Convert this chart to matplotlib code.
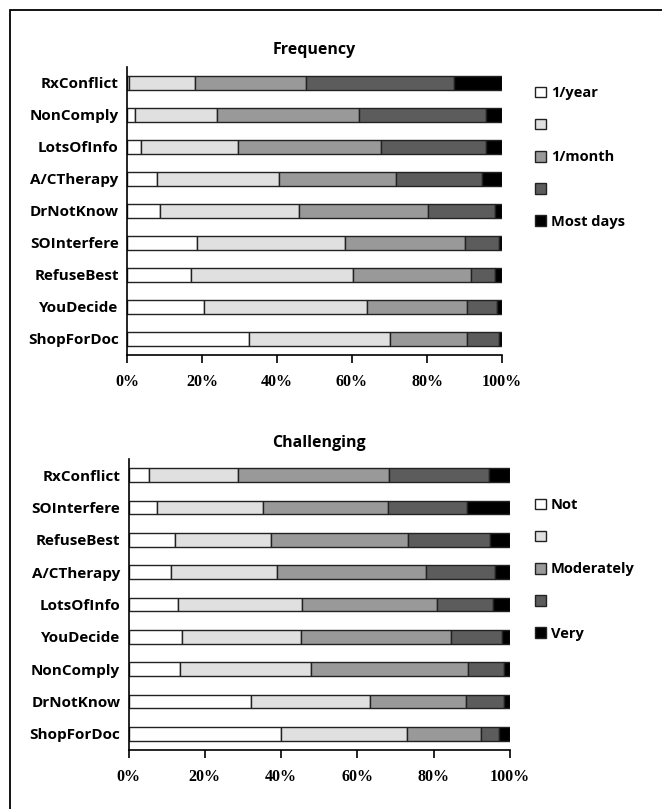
import matplotlib
matplotlib.use("Agg")
import matplotlib.pyplot as plt
from matplotlib.patches import Rectangle

# Données (% par niveau)
freq_cats = ["RxConflict", "NonComply", "LotsOfInfo", "A/CTherapy", "DrNotKnow",
             "SOInterfere", "RefuseBest", "YouDecide", "ShopForDoc"]
freq_labels = ["1/year", "", "1/month", "", "Most days"]
freq_1 = [0.5, 2.1, 3.7, 8.1, 8.7, 18.7, 17.1, 20.5, 32.6]
freq_2 = [17.7, 21.9, 25.8, 32.5, 37.1, 39.4, 43.2, 43.4, 37.6]
freq_3 = [29.4, 37.9, 38.2, 31.1, 34.4, 32.0, 31.5, 26.7, 20.5]
freq_4 = [39.5, 33.7, 27.9, 23.0, 17.9, 9.2, 6.2, 8.0, 8.5]
freq_5 = [12.9, 4.4, 4.4, 5.3, 1.9, 0.7, 2.0, 1.4, 0.8]

chal_cats = ["RxConflict", "SOInterfere", "RefuseBest", "A/CTherapy", "LotsOfInfo",
             "YouDecide", "NonComply", "DrNotKnow", "ShopForDoc"]
chal_labels = ["Not", "", "Moderately", "", "Very"]
chal_1 = [5.5, 7.6, 12.1, 11.2, 13.0, 14.1, 13.5, 32.1, 40.0]
chal_2 = [23.1, 27.7, 25.3, 27.8, 32.5, 31.2, 34.4, 31.3, 33.0]
chal_3 = [39.6, 32.7, 35.9, 39.0, 35.4, 39.2, 41.1, 25.1, 19.4]
chal_4 = [26.3, 20.6, 21.5, 18.0, 14.6, 13.5, 9.3, 9.9, 4.8]
chal_5 = [5.5, 11.4, 5.2, 4.0, 4.5, 2.0, 1.7, 1.6, 2.8]

colors = ["#ffffff", "#e0e0e0", "#999999", "#5c5c5c", "#000000"]
tick_labels = ["0%", "20%", "40%", "60%", "80%", "100%"]

W, H = 662, 809
fig = plt.figure(figsize=(W / 100, H / 100), dpi=100)
fig.patch.set_facecolor("white")

# Cadre autour de la figure
fig.patches.append(Rectangle((10 / W, -0.05), 1.2, 1 - 10 / H + 0.05, transform=fig.transFigure,
                             fill=False, edgecolor="black", linewidth=1.3))

lab_font = dict(family="Open Sans", weight="bold", size=11)
tick_font = dict(family="Liberation Serif", weight="bold", size=11.5)


def draw_chart(rect, cats, series, labels, title, leg_y, bar_h):
    ax = fig.add_axes([rect[0] / W, 1 - rect[3] / H, (rect[2] - rect[0]) / W, (rect[3] - rect[1]) / H])
    ypos = list(range(len(cats)))
    left = [0] * len(cats)
    handles = []
    for vals, col in zip(series, colors):
        b = ax.barh(ypos, vals, left=left, height=bar_h, color=col,
                    edgecolor="#222222", linewidth=1.0)
        handles.append(b)
        left = [l + v for l, v in zip(left, vals)]
    ax.set_xlim(0, 100)
    ax.set_ylim(len(cats) - 0.5, -0.5)
    ax.set_yticks(ypos)
    ax.set_yticklabels(cats, fontdict=lab_font)
    ax.tick_params(axis="y", length=0, pad=6)
    ax.set_xticks([0, 20, 40, 60, 80, 100])
    ax.set_xticklabels(tick_labels, fontdict=tick_font)
    ax.tick_params(axis="x", direction="out", length=6, width=1.2, pad=8)
    for s in ["top", "right"]:
        ax.spines[s].set_visible(False)
    for s in ["left", "bottom"]:
        ax.spines[s].set_linewidth(1.2)
    ax.set_title(title, fontdict=dict(family="Open Sans", weight="bold", size=11.5), pad=9)
    ax.legend(handles, labels, loc="upper left", bbox_to_anchor=(535 / W, 1 - leg_y / H),
              bbox_transform=fig.transFigure, frameon=False,
              prop=dict(family="Open Sans", weight="bold", size=10.5),
              handlelength=0.75, handleheight=0.75, handletextpad=0.35,
              labelspacing=1.25, borderaxespad=0, borderpad=0)
    return ax


draw_chart((127, 67, 502, 355), freq_cats, [freq_1, freq_2, freq_3, freq_4, freq_5],
           freq_labels, "Frequency", 86, 0.42)
draw_chart((128.5, 459, 510, 750), chal_cats, [chal_1, chal_2, chal_3, chal_4, chal_5],
           chal_labels, "Challenging", 498, 0.43)

plt.savefig("out.png", dpi=100)
